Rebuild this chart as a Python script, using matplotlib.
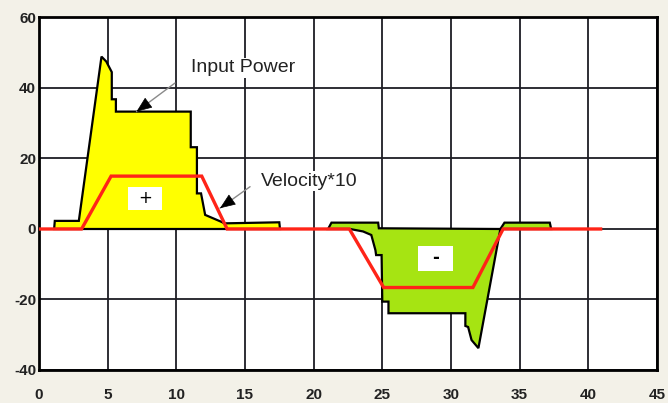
import matplotlib.pyplot as plt
from matplotlib.patches import Rectangle

plt.rcParams["axes.unicode_minus"] = False

# input power, positive half (yellow), polygon outline
pos_x = [1.1, 1.15, 2.9, 4.55, 4.9, 5.3, 5.3, 5.6, 5.6, 11.05, 11.05, 11.5, 11.5,
         11.8, 12.1, 13.3, 13.5, 17.5, 17.55]
pos_y = [0, 2.3, 2.3, 48.9, 47.5, 44.5, 36.8, 36.8, 33.3, 33.3, 23.2, 23.2, 10.1,
         10.1, 4.0, 2.0, 1.6, 1.9, 0]

# input power, negative half (green), polygon outline
neg_x = [21.05, 21.3, 24.7, 24.75, 33.6, 32.0, 31.5, 31.25, 31.05, 31.05, 25.45, 25.45,
         25.0, 24.95, 24.55, 24.5, 24.2, 23.6, 22.65]
neg_y = [0, 1.8, 1.8, 0.2, 0.0, -33.8, -31.5, -27.8, -27.5, -23.9, -23.9, -20.6,
         -20.6, -7.4, -7.4, -6.0, -1.7, -0.7, 0]

# small positive bump after braking
bump_x = [33.6, 33.9, 37.2, 37.3]
bump_y = [0, 1.8, 1.8, 0]

# velocity*10
vel_x = [0, 3.1, 5.25, 11.85, 13.7, 22.6, 25.1, 31.6, 33.8, 40.9]
vel_y = [0, 0, 15.0, 15.0, 0, 0, -16.6, -16.6, 0, 0]

xticks = list(range(0, 50, 5))
yticks = list(range(-40, 80, 20))

fig = plt.figure(figsize=(6.68, 4.03), dpi=100, facecolor="#f3f1e8")
ax = fig.add_axes([0.0584, 0.0819, 0.925, 0.8747])
ax.set_facecolor("white")

ax.fill(pos_x, pos_y, facecolor="#ffff00", edgecolor="black", linewidth=1.6, zorder=3)
ax.fill(neg_x, neg_y, facecolor="#a6e412", edgecolor="black", linewidth=1.6, zorder=3)
ax.fill(bump_x, bump_y, facecolor="#a6e412", edgecolor="black", linewidth=1.6, zorder=3)
ax.plot(vel_x, vel_y, color="#ff2418", linewidth=2.4, zorder=4, solid_joinstyle="miter")

ax.set_xlim(0, 45)
ax.set_ylim(-40, 60)
ax.set_xticks(xticks)
ax.set_yticks(yticks)
ax.grid(True, color="#1c1c24", linewidth=1.3, zorder=1)
ax.set_axisbelow(True)
for s in ax.spines.values():
    s.set_linewidth(2)
    s.set_color("black")
ax.tick_params(length=0)
ax.tick_params(axis="x", pad=13)
ax.tick_params(axis="y", pad=2)
for lab in ax.get_xticklabels() + ax.get_yticklabels():
    lab.set_fontfamily("Liberation Sans")
    lab.set_fontweight("bold")
    lab.set_fontsize(11)
    lab.set_color("#222222")

# callouts: thin gray shaft, black triangular head
line = dict(arrowstyle="-", color="#8a8a8a", linewidth=1, shrinkA=0, shrinkB=0)
head = dict(arrowstyle="-|>,head_length=1.0,head_width=0.4", color="black",
            linewidth=0.5, shrinkA=0, shrinkB=0)
ax.annotate("", xy=(7.1, 33.3), xytext=(9.9, 41.4), arrowprops=line, zorder=6)
ax.annotate("", xy=(7.1, 33.3), xytext=(7.9, 35.6), arrowprops=head, zorder=6)
ax.annotate("", xy=(13.18, 5.9), xytext=(15.37, 12.0), arrowprops=line, zorder=6)
ax.annotate("", xy=(13.18, 5.9), xytext=(13.8, 7.6), arrowprops=head, zorder=6)

ax.text(14.86, 45.7, "Input Power", fontsize=14, family="Liberation Sans", color="#222222",
        ha="center", va="center", zorder=5,
        bbox=dict(facecolor="white", edgecolor="none", pad=1))
ax.text(19.66, 13.6, "Velocity*10", fontsize=14, family="Liberation Sans", color="#222222",
        ha="center", va="center", zorder=5,
        bbox=dict(facecolor="white", edgecolor="none", pad=1))

ax.add_patch(Rectangle((6.5, 5.4), 2.44, 6.6, facecolor="white", edgecolor="none", zorder=5))
ax.text(7.72, 8.7, "+", fontsize=12, ha="center", va="center", zorder=6)
ax.add_patch(Rectangle((27.63, -11.8), 2.5, 7.0, facecolor="white", edgecolor="none", zorder=5))
ax.text(28.88, -8.3, "-", fontsize=12, fontweight="bold", ha="center", va="center", zorder=6)

fig.savefig("out.png", dpi=100, facecolor=fig.get_facecolor())
